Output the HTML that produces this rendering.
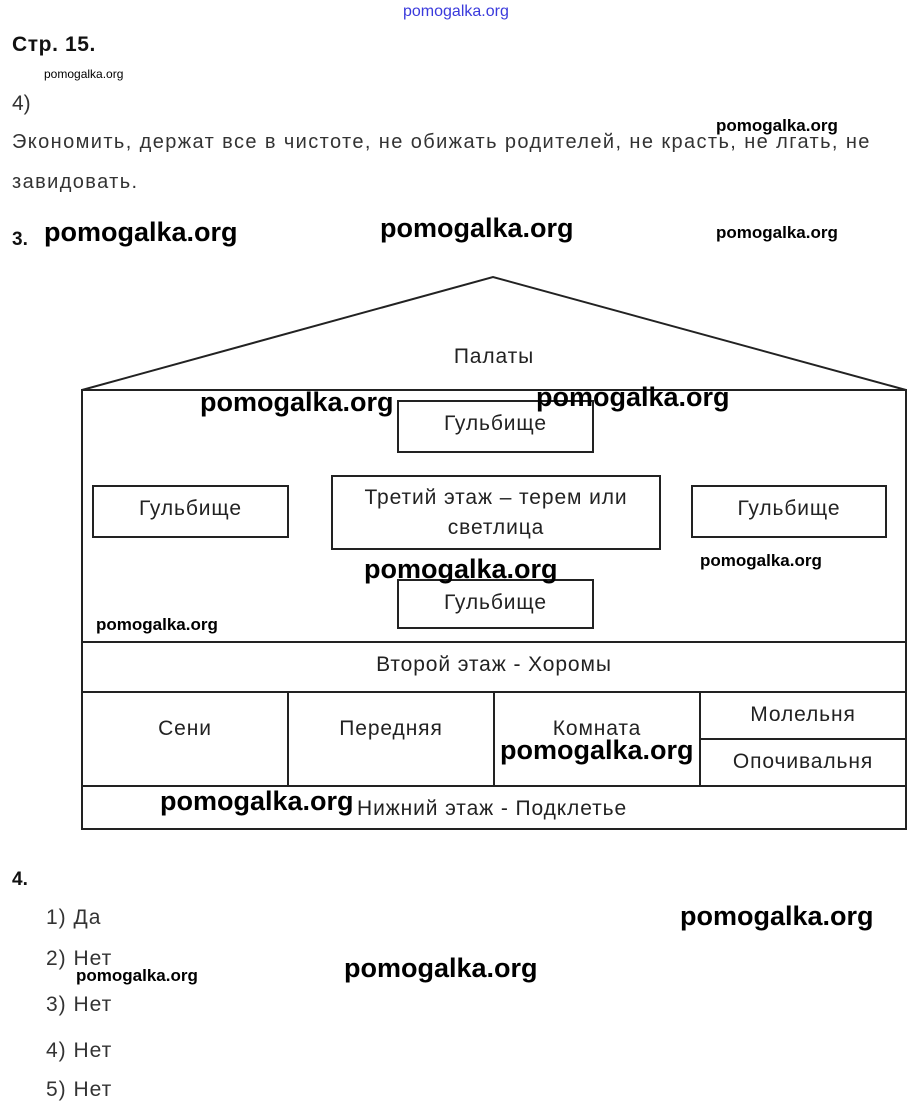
<!DOCTYPE html>
<html><head><meta charset="utf-8"><style>
body{margin:0;width:920px;height:1114px;background:#fff;position:relative;overflow:hidden;font-family:"Liberation Sans",sans-serif;color:#222}
.t{position:absolute;white-space:nowrap;line-height:1}
.w{position:absolute;white-space:nowrap;line-height:1;font-family:"Liberation Sans Narrow","Liberation Sans",sans-serif;font-weight:bold;color:#000}
.d{position:absolute;font-size:21px;letter-spacing:0.9px;color:#222;text-align:center;line-height:1}
</style></head><body>
<div class="t" style="left:403px;top:4px;font-size:16px;color:#3a3adc;font-family:'Liberation Sans Narrow','Liberation Sans',sans-serif">pomogalka.org</div>
<div class="t" style="left:12px;top:34px;font-size:21px;letter-spacing:0.6px;font-weight:bold;color:#111">Стр. 15.</div>
<div class="w" style="left:44px;top:68px;font-size:12px;font-weight:normal">pomogalka.org</div>
<div class="t" style="left:12px;top:93px;font-size:21px;color:#333">4)</div>
<div class="t" style="left:12px;top:132px;font-size:20px;letter-spacing:1.4px;color:#333">Экономить, держат все в чистоте, не обижать родителей, не красть, не лгать, не</div>
<div class="w" style="left:716px;top:117px;font-size:17px">pomogalka.org</div>
<div class="t" style="left:12px;top:172px;font-size:20px;letter-spacing:1.4px;color:#333">завидовать.</div>
<div class="t" style="left:12px;top:230px;font-size:19px;font-weight:bold;color:#111">3.</div>
<div class="w" style="left:44px;top:219px;font-size:27px">pomogalka.org</div>
<div class="w" style="left:380px;top:215px;font-size:27px">pomogalka.org</div>
<div class="w" style="left:716px;top:224px;font-size:17px">pomogalka.org</div>

<svg style="position:absolute;left:0;top:0" width="920" height="1114">
<g fill="none" stroke="#222" stroke-width="2">
<polyline points="82,390 493,277 906,390"/>
<rect x="82" y="390" width="824" height="439"/>
<line x1="82" y1="642" x2="906" y2="642"/>
<line x1="82" y1="692" x2="906" y2="692"/>
<line x1="82" y1="786" x2="906" y2="786"/>
<line x1="288" y1="692" x2="288" y2="786"/>
<line x1="494" y1="692" x2="494" y2="786"/>
<line x1="700" y1="692" x2="700" y2="786"/>
<line x1="700" y1="739" x2="906" y2="739"/>
<rect x="398" y="401" width="195" height="51"/>
<rect x="93" y="486" width="195" height="51"/>
<rect x="332" y="476" width="328" height="73"/>
<rect x="692" y="486" width="194" height="51"/>
<rect x="398" y="580" width="195" height="48"/>
</g></svg>

<div class="d" style="left:394px;width:200px;top:346px">Палаты</div>
<div class="d" style="left:398px;width:195px;top:413px">Гульбище</div>
<div class="d" style="left:93px;width:195px;top:498px">Гульбище</div>
<div class="d" style="left:332px;width:328px;line-height:30px;top:483px">Третий этаж – терем или<br>светлица</div>
<div class="d" style="left:692px;width:194px;top:498px">Гульбище</div>
<div class="d" style="left:398px;width:195px;top:592px">Гульбище</div>
<div class="d" style="left:82px;width:824px;top:654px">Второй этаж - Хоромы</div>
<div class="d" style="left:82px;width:206px;top:718px">Сени</div>
<div class="d" style="left:288px;width:206px;top:718px">Передняя</div>
<div class="d" style="left:494px;width:206px;top:718px">Комната</div>
<div class="d" style="left:700px;width:206px;top:704px">Молельня</div>
<div class="d" style="left:700px;width:206px;top:751px">Опочивальня</div>
<div class="d" style="left:357px;top:798px;text-align:left">Нижний этаж - Подклетье</div>

<div class="w" style="left:200px;top:389px;font-size:27px">pomogalka.org</div>
<div class="w" style="left:536px;top:384px;font-size:27px">pomogalka.org</div>
<div class="w" style="left:364px;top:556px;font-size:27px">pomogalka.org</div>
<div class="w" style="left:700px;top:552px;font-size:17px">pomogalka.org</div>
<div class="w" style="left:96px;top:616px;font-size:17px">pomogalka.org</div>
<div class="w" style="left:500px;top:737px;font-size:27px">pomogalka.org</div>
<div class="w" style="left:160px;top:788px;font-size:27px">pomogalka.org</div>

<div class="t" style="left:12px;top:870px;font-size:19px;font-weight:bold;color:#111">4.</div>
<div class="t" style="left:46px;top:907px;font-size:21px;letter-spacing:1px;color:#333">1) Да</div>
<div class="t" style="left:46px;top:948px;font-size:21px;letter-spacing:1px;color:#333">2) Нет</div>
<div class="t" style="left:46px;top:994px;font-size:21px;letter-spacing:1px;color:#333">3) Нет</div>
<div class="t" style="left:46px;top:1040px;font-size:21px;letter-spacing:1px;color:#333">4) Нет</div>
<div class="t" style="left:46px;top:1079px;font-size:21px;letter-spacing:1px;color:#333">5) Нет</div>
<div class="w" style="left:680px;top:903px;font-size:27px">pomogalka.org</div>
<div class="w" style="left:344px;top:955px;font-size:27px">pomogalka.org</div>
<div class="w" style="left:76px;top:967px;font-size:17px">pomogalka.org</div>
</body></html>
